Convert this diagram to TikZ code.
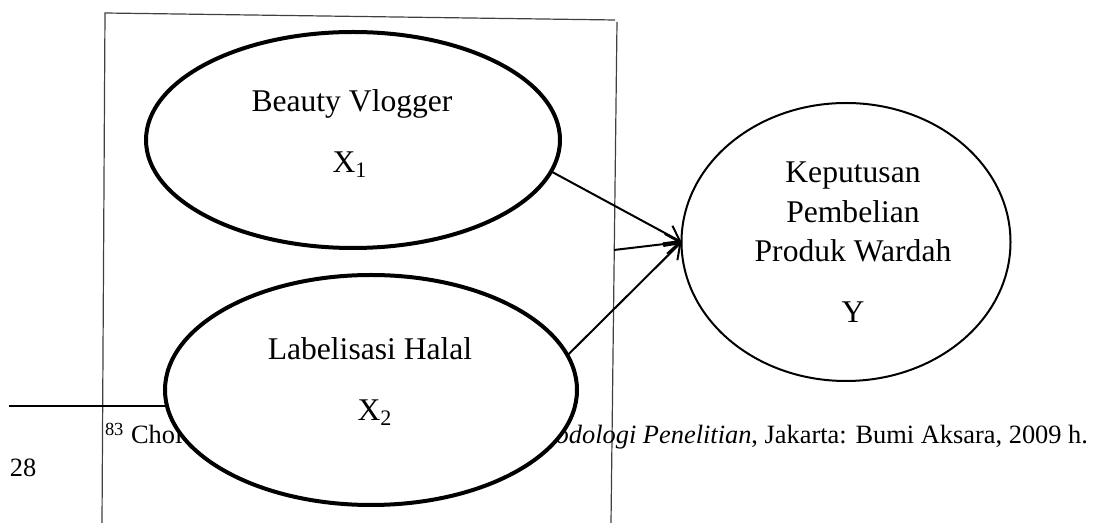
\documentclass[tikz,border=0pt]{standalone}
\usepackage{fontspec}
\setmainfont{Liberation Serif}
\usetikzlibrary{shapes.geometric,arrows.meta}

\begin{document}
\begin{tikzpicture}[x=0.5pt, y=-0.5pt]
% define styles
\tikzstyle{every node} = [inner sep=0pt, outer sep=0pt]
\tikzstyle{var}   = [draw, ellipse, fill=white]
\tikzstyle{txt}   = [anchor=base, font=\fontsize{15.8}{19}\selectfont]
\tikzstyle{note}  = [font=\fontsize{13.2}{16}\selectfont]
\tikzstyle{frame} = [line width=0.6pt, black!75]
\tikzstyle{link}  = [line width=1pt, -{Straight Barb[length=7pt, width=10pt]}]

\useasboundingbox (0,0) rectangle (1099,523);

% frame and footnote
\draw[frame] (102,523) -- (105,13) -- (615,20);
\draw[frame] (617,22) -- (611,523);
\draw[line width=1.3pt] (9,406) -- (190,406);
\node[note, anchor=base west] (fnl) at (105,444) {\textsuperscript{83} Chol};
\node[note, anchor=base east] (fnr) at (1088,444) {\textit{odologi Penelitian}, Jakarta: Bumi Aksara, 2009 h.};
\node[note, anchor=base west] (pg) at (10,477) {28};

% variable nodes
\foreach \v/\x/\y/\w/\h/\lw in {bv/353/140/207/108/2, lh/371/390/206/115/2, kp/846/242/164.5/139/1}
    \node[var, line width=\lw pt, minimum width=\w pt, minimum height=\h pt] (\v) at (\x,\y) {};

% labels
\foreach \n/\x/\y/\t in {bv1/352/112/Beauty Vlogger, bv2/350/173/X\textsubscript{1},
                         lh1/370/360/Labelisasi Halal, lh2/375/421/X\textsubscript{2},
                         kp1/853/183/Keputusan, kp2/853/223/Pembelian,
                         kp3/853/262/Produk Wardah, kp4/853/323/Y}
    \node[txt] (\n) at (\x,\y) {\t};

% point on the frame
\coordinate (rim) at (614,250);

% edges
\foreach \from/\to in {bv.-9/kp.west, rim/kp.west, lh.10/kp.west}
    \draw[link] (\from) -- (\to);

\end{tikzpicture}
\end{document}
